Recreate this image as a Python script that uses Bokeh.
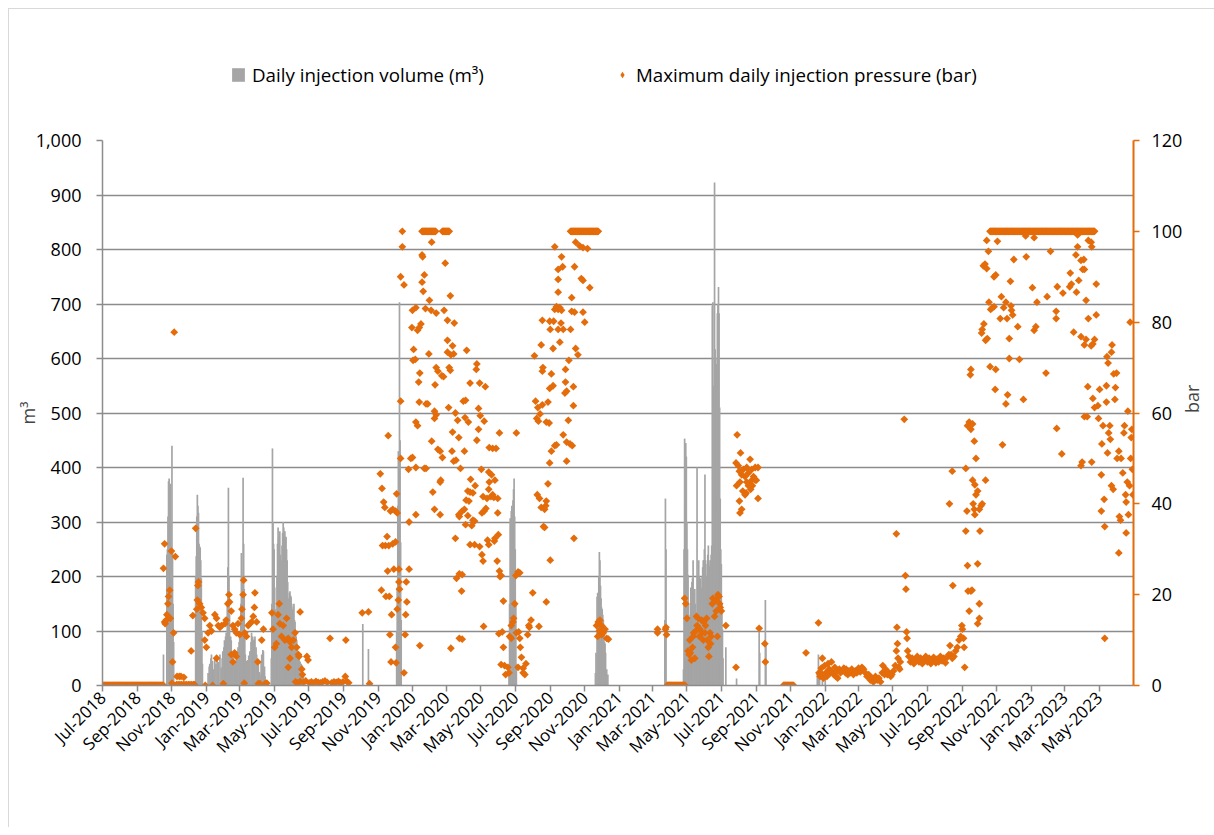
import math
import pandas as pd
from bokeh.plotting import figure
from bokeh.layouts import column
from bokeh.models import (Range1d, LinearAxis, FixedTicker, SingleIntervalTicker,
                          NumeralTickFormatter, DatetimeTickFormatter, Legend, LegendItem)
from bokeh.embed import file_html
from bokeh.resources import INLINE

START = pd.Timestamp("2018-07-01")
END = pd.Timestamp("2023-07-01")

# ---- x tick labels (every 2 months) ----
tick_dates = pd.date_range("2018-07-01", "2023-05-01", freq="2MS")

# ---- daily injection volume (m3): (days since 2018-07-01, m3) ----
vol_2018 = [(108, 57), (114, 240), (115, 250), (116, 310), (117, 375), (118, 380), (119, 250),
            (120, 370), (121, 300), (122, 240), (123, 440), (124, 250), (125, 150), (126, 80),
            (165, 200), (166, 237), (167, 310), (168, 350), (169, 330), (170, 317), (171, 260),
            (172, 255), (173, 253), (174, 230), (175, 197), (176, 100), (177, 40)]
vol_2019 = [(187, 23), (189, 35), (190, 40), (192, 50), (193, 57), (195, 45), (196, 30), (199, 50),
            (201, 40), (203, 55), (205, 43), (208, 57), (210, 33), (212, 50), (213, 63), (215, 70),
            (216, 83), (218, 90), (219, 97), (221, 150), (222, 217), (223, 363), (224, 200),
            (225, 130), (227, 90), (228, 83), (230, 60), (231, 57), (233, 40), (234, 37), (236, 45),
            (237, 47), (239, 60), (240, 70), (242, 80), (243, 90), (245, 150), (246, 243), (248, 200),
            (249, 381), (250, 260), (251, 177), (252, 90), (253, 57), (255, 45), (257, 47), (259, 55),
            (261, 63), (263, 80), (264, 97), (266, 90), (267, 83), (269, 85), (270, 90), (272, 70),
            (273, 57), (275, 40), (276, 37), (278, 25), (279, 20), (281, 45), (282, 57), (284, 65),
            (285, 63), (287, 35), (288, 17),
            (299, 50), (300, 150), (301, 435), (302, 300), (303, 260), (304, 250), (305, 180),
            (306, 140), (307, 120), (308, 130), (309, 200), (310, 260), (311, 290), (312, 270),
            (313, 275), (314, 283), (315, 240), (316, 217), (317, 230), (318, 257), (319, 280),
            (320, 300), (321, 290), (322, 275), (323, 283), (324, 270), (325, 273), (326, 250),
            (327, 230), (328, 190), (329, 150), (330, 160), (331, 170), (332, 173), (333, 165),
            (334, 163), (335, 150), (336, 140), (337, 130), (338, 145), (339, 150), (340, 120),
            (341, 117), (342, 100), (343, 90), (344, 83), (345, 70), (346, 60), (347, 57), (348, 50),
            (349, 45), (350, 43), (352, 40), (353, 37), (355, 20), (356, 23),
            (461, 113), (471, 67),
            (521, 100), (522, 180), (523, 330), (524, 430), (525, 420), (526, 703), (527, 450),
            (528, 263), (529, 120)]
vol_2020 = [(720, 30), (721, 150), (722, 307), (723, 290), (724, 320), (725, 330), (726, 300),
            (727, 340), (728, 360), (729, 380), (730, 310), (731, 250), (732, 150), (733, 40),
            (873, 23), (874, 60), (876, 163), (877, 170), (879, 200), (880, 245), (881, 230),
            (882, 183), (883, 160), (884, 143), (885, 140), (886, 130), (887, 120), (888, 97),
            (889, 80), (890, 77), (891, 60), (893, 30), (895, 20)]
vol_2021 = [(996, 120), (997, 343), (998, 250),
            (1029, 30), (1030, 250), (1031, 453), (1032, 440), (1033, 445), (1034, 420), (1035, 300),
            (1036, 250), (1037, 203), (1038, 150), (1039, 120), (1040, 97), (1041, 130), (1042, 180),
            (1043, 150), (1044, 190), (1045, 197), (1046, 230), (1047, 163), (1048, 170), (1049, 177),
            (1050, 150), (1051, 110), (1052, 83), (1053, 400), (1054, 200), (1055, 197), (1056, 230),
            (1057, 200), (1058, 150), (1059, 197), (1060, 180), (1061, 177), (1062, 200), (1063, 217),
            (1064, 230), (1065, 230), (1066, 250), (1067, 387), (1068, 230), (1069, 183), (1070, 200),
            (1071, 223), (1072, 240), (1073, 257), (1074, 230), (1075, 217), (1076, 220), (1077, 230),
            (1078, 240), (1079, 257), (1080, 697), (1081, 703), (1082, 550), (1083, 400), (1084, 923),
            (1085, 617), (1086, 600), (1087, 590), (1088, 580), (1089, 683), (1090, 700), (1091, 731),
            (1092, 683), (1093, 510), (1094, 343), (1095, 250), (1096, 223), (1097, 150), (1098, 103),
            (1099, 50), (1104, 70), (1123, 13), (1163, 103), (1164, 60), (1174, 157), (1175, 80)]
vol_2022 = [(1266, 20), (1268, 57), (1270, 30), (1275, 25), (1280, 20)]

# ---- maximum daily injection pressure (bar): (days since 2018-07-01, bar) ----
press_2018 = [(108, 25.8), (110, 31.2), (110, 14.0), (111, 13.6), (113, 14.4), (114, 15.6), (116, 18.0),
              (117, 19.6), (119, 21.0), (120, 14.8), (122, 29.6), (123, 0.5), (124, 5.2), (126, 11.6),
              (127, 77.8), (129, 28.4), (132, 2.0), (136, 2.0), (139, 2.0), (144, 1.8),
              (131, 0.2), (134, 0.2), (137, 0.2), (140, 0.2), (143, 0.2), (146, 0.2), (149, 0.2),
              (152, 0.2), (155, 0.2), (158, 0.2), (161, 0.2), (163, 0.2),
              (157, 7.6), (160, 15.4), (165, 34.6), (167, 16.8), (168, 18.8), (169, 22.0), (170, 22.8),
              (172, 18.0), (175, 17.2), (178, 16.0), (181, 14.8), (181, 10.0), (182, 0.0), (184, 8.4)]
press_2019 = [(187, 11.6), (190, 13.2), (193, 12.0), (195, 0.0), (199, 15.6), (202, 14.8), (202, 6.0),
              (205, 13.2), (208, 12.8), (211, 13.2), (214, 0.4), (217, 13.6), (219, 14.4), (222, 18.0),
              (224, 20.0), (225, 18.4), (228, 16.4), (228, 6.8), (231, 13.2), (231, 5.2), (234, 12.4),
              (234, 7.2), (237, 11.6), (237, 6.4), (240, 13.6), (243, 11.2), (246, 14.8), (247, 16.8),
              (249, 20.0), (250, 23.2), (251, 0.5), (252, 11.6), (255, 10.8), (258, 13.2), (261, 13.6),
              (264, 14.0), (267, 15.2), (269, 17.2), (270, 20.4), (273, 14.0), (275, 5.2), (276, 0.4),
              (279, 0.4), (282, 10.0), (285, 12.4), (288, 0.4), (291, 0.5),
              (300, 16.0), (302, 12.4), (305, 8.4), (308, 9.2), (311, 15.6), (313, 18.0), (314, 13.6),
              (317, 10.8), (320, 13.2), (323, 10.0), (326, 14.8), (329, 10.4), (329, 4.0), (332, 9.6),
              (332, 6.0), (335, 8.4), (338, 10.0), (341, 11.6), (344, 8.4), (347, 6.8), (348, 6.4),
              (350, 16.2), (353, 3.6), (354, 2.4), (362, 6.4), (364, 5.6),
              (342, 0.8), (346, 0.6), (350, 0.9), (356, 0.7), (360, 1.0), (366, 0.6), (370, 0.8),
              (374, 0.5), (378, 0.9), (382, 0.7), (386, 0.6), (390, 0.8), (394, 1.0), (398, 0.7),
              (403, 10.4), (406, 0.6), (410, 0.8), (414, 0.7), (418, 0.9), (422, 0.6), (426, 0.8),
              (430, 2.0), (431, 10.0), (433, 0.9), (436, 0.6),
              (460, 16.0), (471, 16.2), (473, 0.4),
              (492, 46.6), (494, 21.0), (495, 43.4), (496, 30.8), (498, 40.4), (500, 39.2), (501, 30.8),
              (502, 19.6), (504, 32.8), (505, 25.2), (506, 55.0), (507, 30.8), (508, 19.6), (509, 11.2),
              (510, 38.4), (511, 5.2), (512, 15.6), (514, 38.8), (514, 31.2), (516, 25.6), (519, 38.4),
              (519, 31.6), (519, 8.4), (520, 5.0), (521, 42.2), (522, 38.0), (522, 16.8), (524, 18.8),
              (525, 25.6), (525, 22.8), (526, 21.2), (528, 62.6), (528, 90.0), (528, 50.0), (531, 96.6),
              (531, 100.0), (534, 88.2), (534, 2.8), (536, 11.2), (537, 15.6), (538, 22.8), (539, 18.4),
              (542, 47.6), (543, 36.0), (543, 25.6), (546, 50.0)]
press_2020 = [(548, 78.8), (549, 82.6), (549, 50.2), (550, 71.6), (551, 74.0), (554, 71.8), (555, 83.2),
              (555, 58.0), (555, 48.0), (555, 37.6), (558, 78.2), (558, 57.2), (560, 66.8), (561, 78.8),
              (561, 62.4), (562, 68.8), (562, 8.8), (564, 79.6), (566, 94.8), (566, 88.8), (567, 94.4),
              (568, 86.8), (570, 90.4), (570, 47.8), (572, 83.0), (573, 62.0), (573, 47.8), (576, 62.0),
              (578, 73.0), (579, 84.8), (582, 82.6), (583, 97.6), (583, 53.8), (585, 42.6), (588, 60.4),
              (588, 58.8), (588, 38.8), (589, 66.2), (591, 82.0), (591, 59.6), (591, 70.0), (594, 52.0),
              (594, 69.2), (598, 51.6), (598, 44.8), (598, 37.6), (599, 45.2), (601, 68.2), (602, 50.2),
              (604, 68.0), (605, 82.6), (607, 93.0), (611, 80.4), (611, 73.4), (611, 76.0), (613, 61.2),
              (614, 70.0), (616, 85.8), (616, 69.4), (617, 72.8), (617, 8.2), (619, 51.6), (620, 74.8),
              (620, 55.8), (622, 73.0), (622, 49.4), (623, 79.8), (625, 60.0), (625, 32.4), (626, 49.6),
              (627, 23.6), (629, 58.4), (631, 54.6), (631, 37.6), (632, 24.6), (632, 37.2), (632, 10.4),
              (634, 47.8), (636, 20.8), (637, 24.4), (637, 10.2), (637, 38.4),
              (639, 62.6), (641, 38.8), (641, 51.6), (642, 59.0), (643, 62.8), (643, 35.4), (644, 40.8),
              (645, 73.8), (647, 42.8), (647, 37.4), (648, 58.0), (649, 40.6), (651, 66.6), (651, 42.6),
              (651, 31.0), (652, 45.4), (654, 35.2), (656, 42.4), (656, 36.4), (659, 36.2), (659, 31.0),
              (660, 44.0), (662, 69.6), (663, 70.8), (663, 54.0), (666, 61.0), (666, 56.4), (668, 66.6),
              (668, 30.6), (669, 59.4), (671, 47.6), (672, 38.0), (672, 28.8), (674, 41.6), (674, 27.4),
              (675, 13.0), (676, 58.2), (676, 38.4), (678, 65.8), (679, 39.0), (681, 41.2), (682, 32.0),
              (684, 47.0), (684, 43.2), (684, 31.0), (685, 52.4), (685, 44.8), (688, 41.6), (689, 46.4),
              (691, 52.2), (691, 42.0), (693, 41.4), (694, 31.8), (695, 45.2), (695, 32.4), (697, 52.2),
              (699, 27.4), (700, 41.2), (700, 38.0), (701, 33.2), (702, 11.4), (703, 55.6), (703, 25.2),
              (704, 24.0), (706, 24.2), (706, 4.6), (708, 11.8), (710, 18.6), (710, 8.4), (712, 4.4),
              (714, 2.4), (718, 4.0), (720, 2.8), (721, 10.8), (724, 13.2), (724, 10.4), (727, 14.0),
              (728, 14.8), (730, 18.0), (732, 24.2), (733, 11.6), (733, 55.6), (736, 25.0), (736, 4.0),
              (737, 11.8), (739, 24.8), (739, 10.4), (740, 8.4), (742, 6.2), (745, 3.8), (745, 2.8),
              (748, 2.4), (750, 4.8), (753, 11.2), (755, 13.2), (756, 12.8), (759, 14.4), (762, 20.4),
              (773, 13.0), (786, 18.4),
              (765, 72.6), (767, 62.6), (769, 58.8), (770, 42.0), (771, 61.2), (772, 58.2), (774, 41.2),
              (775, 59.8), (777, 75.0), (777, 39.2), (779, 80.4), (779, 69.2), (779, 61.8), (780, 70.0),
              (781, 35.0), (783, 38.8), (783, 34.8), (785, 39.6), (786, 40.6), (786, 58.0), (789, 44.4),
              (789, 62.4), (791, 57.8), (792, 49.0), (792, 65.4), (792, 80.2), (793, 78.4), (793, 27.6),
              (795, 51.6), (795, 68.6), (798, 66.0), (798, 74.2), (799, 80.2), (801, 82.8), (801, 52.8),
              (801, 96.6), (804, 83.4), (804, 53.0), (807, 82.8), (807, 78.4), (807, 86.6), (807, 89.4),
              (807, 91.6), (810, 83.2), (810, 75.6), (812, 79.8), (813, 82.6), (813, 94.4), (815, 92.2),
              (816, 78.4), (816, 55.2), (819, 64.4), (820, 69.6), (820, 66.8), (822, 64.8), (822, 53.6),
              (822, 49.4), (825, 58.4), (826, 71.6), (828, 53.2), (829, 78.4), (831, 85.4), (831, 82.4),
              (832, 52.8), (834, 65.8), (834, 61.6), (835, 32.4), (836, 92.2), (836, 82.2), (838, 97.6),
              (838, 74.2), (842, 72.8), (845, 96.8), (848, 89.6), (851, 96.4), (851, 89.2), (851, 82.2),
              (854, 80.0), (859, 96.2), (863, 87.6),
              (875, 13.2), (877, 10.8), (878, 14.0), (880, 12.0), (881, 14.4), (884, 13.2), (884, 11.2),
              (887, 11.6), (890, 12.4), (893, 10.4), (896, 10.2)]
press_2021 = [(983, 11.6), (983, 12.4), (997, 12.4), (998, 12.8), (999, 11.2),
              (1031, 19.2), (1033, 18.0), (1035, 14.8), (1037, 7.6), (1039, 6.8), (1040, 10.0),
              (1041, 7.2), (1043, 5.6), (1045, 8.4), (1046, 10.8), (1047, 11.6), (1049, 6.0),
              (1051, 12.0), (1052, 15.2), (1053, 13.2), (1055, 14.8), (1057, 10.8), (1058, 12.4),
              (1061, 14.4), (1062, 11.6), (1064, 10.0), (1065, 14.0), (1067, 11.6), (1068, 13.2),
              (1070, 14.8), (1071, 10.0), (1073, 8.4), (1074, 6.4), (1076, 11.6), (1077, 9.2),
              (1078, 10.8), (1080, 18.0), (1081, 19.2), (1084, 15.2), (1086, 18.8), (1087, 16.4),
              (1089, 10.8), (1090, 20.0), (1092, 19.6), (1093, 18.0), (1094, 17.2), (1096, 16.4),
              (1104, 13.2), (1122, 4.0),
              (1122, 49.0), (1123, 44.0), (1124, 55.2), (1126, 48.4), (1128, 47.2), (1128, 40.6),
              (1129, 44.8), (1129, 38.0), (1130, 51.2), (1132, 46.4), (1132, 38.8), (1134, 42.8),
              (1135, 47.6), (1138, 46.0), (1138, 42.0), (1140, 42.4), (1141, 48.0), (1141, 44.8),
              (1144, 46.8), (1144, 44.0), (1145, 44.4), (1147, 49.8), (1148, 43.2), (1150, 47.6),
              (1150, 45.2), (1151, 44.0), (1153, 46.0), (1156, 48.0), (1156, 45.2), (1158, 45.2),
              (1161, 48.0), (1161, 41.2),
              (1163, 12.6), (1173, 9.2), (1174, 5.2), (1246, 7.2)]
press_2022 = [(1268, 13.8), (1269, 2.8), (1271, 2.0), (1271, 2.4), (1273, 3.8), (1275, 6.0), (1275, 2.4),
              (1277, 1.6), (1279, 4.4), (1281, 2.8), (1283, 2.0), (1285, 4.8), (1287, 3.6), (1289, 2.8),
              (1291, 5.2), (1292, 3.0), (1295, 2.4), (1297, 4.0), (1299, 2.0), (1301, 3.2), (1302, 1.6),
              (1305, 3.6), (1307, 2.8), (1310, 3.2), (1313, 3.8), (1316, 2.8), (1317, 3.6), (1320, 2.4),
              (1322, 3.2), (1324, 2.8), (1327, 3.6), (1330, 2.4), (1333, 3.2), (1336, 2.8), (1339, 3.8),
              (1342, 3.0), (1345, 4.0), (1348, 3.6), (1351, 2.8), (1354, 2.0), (1357, 2.4), (1360, 1.2),
              (1363, 1.6), (1365, 0.8), (1367, 1.0), (1369, 2.0), (1372, 1.2), (1375, 1.6), (1378, 0.8),
              (1381, 2.8), (1382, 4.4), (1385, 2.4), (1387, 3.6), (1390, 2.4), (1393, 2.8), (1396, 2.0),
              (1398, 2.4), (1401, 3.2), (1404, 4.4), (1406, 7.6), (1406, 33.4), (1407, 12.8), (1408, 9.2),
              (1409, 6.0), (1410, 4.0), (1412, 3.6), (1413, 5.2), (1420, 58.6), (1422, 24.2), (1423, 21.2),
              (1424, 11.8), (1425, 10.4),
              (1426, 7.6), (1428, 6.4), (1431, 5.2), (1434, 6.0), (1437, 4.8), (1440, 5.6), (1443, 6.4),
              (1446, 5.2), (1449, 6.0), (1452, 4.8), (1455, 5.6), (1458, 6.4), (1461, 5.2), (1464, 6.0),
              (1467, 4.8), (1470, 5.6), (1472, 6.2), (1476, 5.0), (1478, 5.8), (1481, 5.2), (1484, 6.4),
              (1487, 5.4), (1490, 6.0), (1493, 5.0), (1496, 6.2), (1499, 6.8), (1501, 8.8), (1503, 6.8),
              (1505, 6.0), (1508, 6.4), (1511, 7.6), (1514, 8.4), (1517, 10.0), (1520, 10.8), (1522, 13.2),
              (1523, 12.4), (1525, 10.4), (1526, 8.4), (1527, 4.0), (1500, 40.0), (1505, 47.2), (1506, 22.0),
              (1529, 47.8), (1529, 34.0), (1531, 38.4), (1532, 26.4), (1532, 57.2), (1533, 20.8),
              (1535, 16.4), (1535, 58.0), (1537, 68.4), (1538, 69.6), (1538, 56.4), (1538, 20.8),
              (1540, 21.0), (1541, 57.6), (1541, 45.2), (1542, 40.0), (1544, 53.8), (1544, 38.8),
              (1545, 44.2), (1545, 37.6), (1547, 50.0), (1547, 42.0), (1550, 42.8), (1550, 26.8),
              (1550, 13.6), (1553, 38.8), (1553, 18.0), (1553, 14.8), (1554, 34.0), (1556, 39.6),
              (1558, 40.0), (1564, 45.2),
              (1557, 77.6), (1558, 78.4), (1560, 92.4), (1561, 79.6), (1563, 92.8), (1564, 76.0),
              (1566, 91.8), (1566, 98.0), (1567, 76.4), (1569, 95.6), (1570, 84.4), (1572, 70.2),
              (1573, 82.8), (1576, 83.2), (1579, 83.4), (1579, 90.0), (1581, 65.2), (1582, 69.6),
              (1582, 90.4), (1585, 97.8), (1590, 80.8), (1592, 85.6), (1594, 53.0), (1596, 83.2),
              (1600, 84.4), (1600, 62.0), (1602, 80.8), (1603, 64.0), (1606, 76.4), (1606, 72.0),
              (1608, 89.0), (1609, 83.6), (1610, 82.6), (1612, 81.6), (1614, 93.8), (1621, 79.0),
              (1624, 71.8), (1631, 63.0), (1635, 99.0), (1636, 94.4)]
press_2023 = [(1647, 87.6), (1650, 78.2), (1650, 98.6), (1653, 79.0), (1655, 84.4), (1671, 68.8),
              (1673, 85.6), (1679, 95.6), (1689, 82.4), (1689, 80.8), (1690, 56.6), (1691, 87.8),
              (1699, 51.0), (1701, 86.4), (1713, 87.8), (1714, 90.8), (1716, 88.4), (1720, 77.8),
              (1724, 94.8), (1725, 86.6), (1727, 96.6), (1727, 99.2), (1729, 89.2), (1733, 93.6),
              (1733, 76.8), (1733, 48.4), (1735, 49.2), (1736, 91.6), (1738, 93.8), (1739, 91.6),
              (1739, 75.0), (1739, 59.2), (1742, 84.8), (1742, 76.2), (1744, 59.2), (1745, 65.8),
              (1746, 80.8), (1746, 98.0), (1751, 74.8), (1751, 97.6), (1752, 49.2), (1752, 96.6),
              (1754, 75.2), (1754, 63.2), (1757, 76.2), (1757, 61.2), (1760, 81.6), (1760, 88.4),
              (1763, 61.6), (1764, 58.8), (1766, 65.2), (1769, 38.4), (1769, 46.4), (1770, 53.2),
              (1772, 57.2), (1774, 41.0), (1775, 35.0), (1775, 10.4), (1778, 66.0), (1778, 62.4),
              (1779, 72.4), (1780, 51.2), (1781, 71.0), (1782, 55.6), (1784, 57.2), (1785, 54.2),
              (1787, 44.0), (1787, 73.4), (1788, 75.0), (1790, 43.2), (1791, 68.6), (1793, 63.0),
              (1794, 65.6), (1796, 68.8), (1797, 50.0), (1800, 51.6), (1800, 29.2), (1801, 37.2),
              (1803, 36.4), (1804, 50.0), (1807, 46.8), (1809, 55.6), (1810, 57.2), (1812, 42.0),
              (1813, 33.6), (1813, 40.4), (1815, 44.8), (1816, 60.4), (1817, 37.6), (1819, 44.0),
              (1820, 80.0), (1821, 50.0), (1822, 54.6), (1823, 56.4), (1824, 47.6), (1825, 42.0)]

# stretches with a reading every day at a constant value (first day, last day)
press_zero_runs = [(0, 108), (1000, 1032), (1206, 1224)]     # 0 bar
press_cap_runs = [(566, 590), (602, 614), (829, 878), (1572, 1757)]  # 100 bar

GREY = "#a5a5a5"
ORANGE = "#e46c0a"
AXIS_GREY = "#8c8c8c"
FONT = "Open Sans"
W = 1210


def to_dates(days):
    return [START + pd.Timedelta(days=d) for d in days]


vol_all = vol_2018 + vol_2019 + vol_2020 + vol_2021 + vol_2022
press_all = press_2018 + press_2019 + press_2020 + press_2021 + press_2022 + press_2023
for (a, b) in press_zero_runs:
    press_all += [(d, 0.0) for d in range(a, b + 1)]
for (a, b) in press_cap_runs:
    press_all += [(d, 100.0) for d in range(a, b + 1)]

vol_x = to_dates([d for d, _ in vol_all])
vol_y = [v for _, v in vol_all]
pr_x = to_dates([d for d, _ in press_all])
pr_y = [v for _, v in press_all]

# ---------------- legend strip (top) ----------------
lf = figure(width=W, height=119, output_backend="svg", toolbar_location=None,
            x_range=Range1d(0, 1), y_range=Range1d(0, 1),
            x_axis_location=None, y_axis_location=None,
            min_border_left=0, min_border_right=0, min_border_top=0, min_border_bottom=0,
            outline_line_color=None, background_fill_color="white", border_fill_color="white")
lf.xgrid.visible = False
lf.ygrid.visible = False
# off-range samples, only so that the legend can draw their glyphs
lg_bar = lf.vbar(x=[5], top=[5], bottom=[4], width=0.1, color=GREY, line_color=None)
lg_pt = lf.scatter(x=[5], y=[5], marker="diamond", size=6, fill_color=ORANGE, line_color=None)
legend = Legend(items=[LegendItem(label="Daily injection volume (m³)", renderers=[lg_bar]),
                       LegendItem(label="Maximum daily injection pressure (bar)", renderers=[lg_pt])],
                orientation="horizontal", location=(128, 41), spacing=130,
                glyph_width=16, glyph_height=17, label_standoff=6, padding=5, margin=0,
                border_line_color=None, background_fill_alpha=0,
                label_text_font=FONT, label_text_font_size="18.75px", label_text_color="black")
lf.add_layout(legend)

# ---------------- main chart ----------------
p = figure(width=W, height=699, x_axis_type="datetime", output_backend="svg",
           toolbar_location=None, x_range=Range1d(START, END), y_range=Range1d(0, 1000),
           min_border_left=93, min_border_right=77, min_border_top=12, min_border_bottom=142,
           outline_line_color=None, background_fill_color="white", border_fill_color="white")
p.extra_y_ranges = {"bar": Range1d(0, 120)}

p.vbar(x=vol_x, top=vol_y, width=3 * 86400000, color=GREY, line_color=None)
p.scatter(x=pr_x, y=pr_y, y_range_name="bar", marker="square", angle=math.pi / 4,
          size=5.5, fill_color=ORANGE, line_color=None)

# x axis
xa = p.xaxis[0]
xa.ticker = FixedTicker(ticks=[t.value // 10**6 for t in tick_dates])
xa.formatter = DatetimeTickFormatter(days="%b-%Y", months="%b-%Y", years="%b-%Y")
xa.major_label_orientation = math.pi / 4
xa.minor_tick_line_color = None
xa.major_tick_in = 0
xa.major_tick_out = 6
xa.major_tick_line_color = AXIS_GREY
xa.major_tick_line_width = 1.5
xa.axis_line_color = AXIS_GREY
xa.axis_line_width = 1.5
xa.major_label_text_font = FONT
xa.major_label_text_font_size = "17px"
xa.major_label_text_color = "black"
xa.major_label_standoff = 3
p.xgrid.visible = False

# left axis
ya = p.yaxis[0]
ya.ticker = SingleIntervalTicker(interval=100)
ya.formatter = NumeralTickFormatter(format="0,0")
ya.axis_label = "m³"
ya.minor_tick_line_color = None
ya.major_tick_in = 0
ya.major_tick_out = 6
ya.major_tick_line_color = AXIS_GREY
ya.major_tick_line_width = 1.5
ya.axis_line_color = AXIS_GREY
ya.axis_line_width = 1.5
ya.major_label_text_font = FONT
ya.major_label_text_font_size = "18px"
ya.major_label_text_color = "black"
ya.major_label_standoff = 15
ya.axis_label_text_font = FONT
ya.axis_label_text_font_size = "18px"
ya.axis_label_text_font_style = "normal"
ya.axis_label_standoff = -7
p.ygrid.ticker = SingleIntervalTicker(interval=100)
p.ygrid.grid_line_color = AXIS_GREY
p.ygrid.grid_line_width = 1.3

# right axis
ax2 = LinearAxis(y_range_name="bar", axis_label="bar", ticker=SingleIntervalTicker(interval=20))
ax2.minor_tick_line_color = None
ax2.major_tick_in = 0
ax2.major_tick_out = 6
ax2.major_tick_line_color = ORANGE
ax2.major_tick_line_width = 1.5
ax2.axis_line_color = ORANGE
ax2.axis_line_width = 2
ax2.major_label_text_font = FONT
ax2.major_label_text_font_size = "18px"
ax2.major_label_text_color = "black"
ax2.major_label_standoff = 12
ax2.axis_label_text_font = FONT
ax2.axis_label_text_font_size = "18px"
ax2.axis_label_text_font_style = "normal"
ax2.axis_label_standoff = 7
if "axis_label_orientation" in ax2.properties():
    ax2.axis_label_orientation = math.pi / 2
p.add_layout(ax2, "right")

page = column(lf, p, spacing=0,
              styles={"margin-left": "8px", "margin-top": "8px",
                      "border-top": "1px solid #d9d9d9", "border-left": "1px solid #d9d9d9"})

html = file_html(page, INLINE)
html = html.replace("<head>", "<head><style>html, body { overflow: hidden; }</style>", 1)
open("out.html", "w").write(html)
